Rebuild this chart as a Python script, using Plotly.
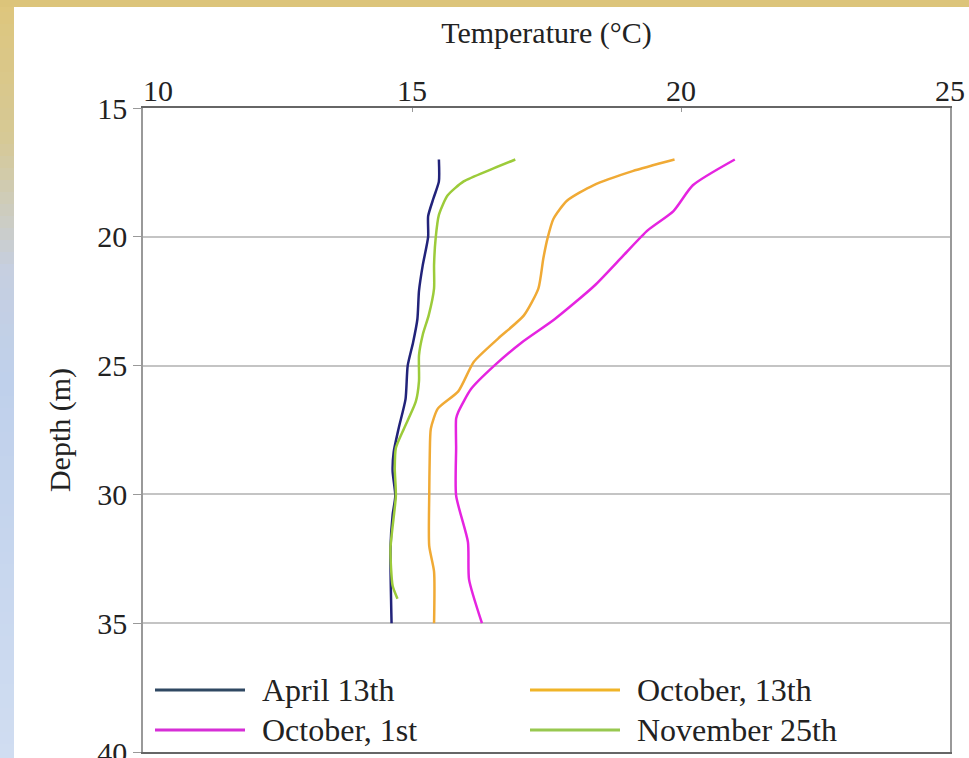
import plotly.graph_objects as go

# Profils de température
april_depth = [17.0, 17.85, 18.5, 19.2, 20.0, 21.1, 22.1, 23.2, 24.1, 25.0, 26.3, 27.45, 28.35, 29.1, 30.05, 30.8, 32.1, 35.0]
april_temp = [15.5, 15.5, 15.4, 15.3, 15.3, 15.2, 15.13, 15.1, 15.02, 14.92, 14.88, 14.75, 14.66, 14.64, 14.69, 14.64, 14.6, 14.62]

oct13_depth = [17.0, 17.45, 18.0, 18.6, 19.3, 20.05, 20.85, 22.0, 23.05, 23.95, 24.85, 26.0, 26.67, 27.45, 28.5, 30.05, 32.0, 33.0, 35.0]
oct13_temp = [19.88, 19.1, 18.37, 17.88, 17.63, 17.52, 17.44, 17.35, 17.08, 16.6, 16.15, 15.86, 15.48, 15.35, 15.33, 15.32, 15.32, 15.41, 15.41]

oct1_depth = [17.0, 18.0, 19.0, 19.75, 20.7, 21.9, 23.2, 24.1, 25.0, 25.9, 26.8, 27.06, 28.2, 30.05, 31.85, 33.3, 35.0]
oct1_temp = [21.0, 20.22, 19.86, 19.38, 18.94, 18.39, 17.65, 17.04, 16.53, 16.1, 15.86, 15.82, 15.82, 15.82, 16.04, 16.06, 16.3]

nov_depth = [17.0, 17.4, 17.85, 18.4, 19.15, 20.05, 21.1, 22.0, 23.05, 23.8, 24.6, 25.6, 26.4, 27.45, 28.2, 29.0, 30.05, 32.1, 33.55, 34.05]
nov_temp = [16.92, 16.45, 15.96, 15.66, 15.5, 15.44, 15.41, 15.41, 15.31, 15.2, 15.13, 15.13, 15.07, 14.85, 14.7, 14.68, 14.7, 14.6, 14.64, 14.73]

names = ["April 13th", "October, 13th", "October, 1st", "November 25th"]
colors = ["#22237a", "#f0aa35", "#e524e0", "#9ccb3a"]
legend_colors = ["#2f4862", "#f0b428", "#d62ed6", "#98c850"]
temps = [april_temp, oct13_temp, oct1_temp, nov_temp]
depths = [april_depth, oct13_depth, oct1_depth, nov_depth]

x_ticks = [10, 15, 20, 25]
y_ticks = [15, 20, 25, 30, 35, 40]

W, H = 969, 758
L, R, T, B = 143, 19, 108, 6
PW, PH = W - L - R, H - T - B


def xp(px):
    return (px - L) / PW


def yp(py):
    return (H - B - py) / PH


FONT = "Liberation Serif, Times New Roman, serif"

fig = go.Figure()
for name, col, t, d in zip(names, colors, temps, depths):
    fig.add_trace(go.Scatter(x=t, y=d, mode="lines", name=name,
                             line=dict(color=col, width=2.5, shape="spline", smoothing=0.6)))

# Bandeau décoratif (dégradé à gauche, bande dorée en haut)
stops = [(0, (222, 198, 124)), (140, (214, 201, 150)), (270, (198, 207, 224)),
         (380, (191, 208, 235)), (758, (208, 221, 241))]


def grad(py):
    for (a, ca), (b, cb) in zip(stops[:-1], stops[1:]):
        if a <= py <= b:
            f = (py - a) / (b - a)
            return "rgb(%d,%d,%d)" % tuple(round(ca[i] + f * (cb[i] - ca[i])) for i in range(3))
    return "rgb(208,221,241)"


shapes = []
step = 12
for py in range(0, H, step):
    shapes.append(dict(type="rect", xref="paper", yref="paper", layer="below",
                       x0=xp(0), x1=xp(14), y0=yp(py + step + 1), y1=yp(py),
                       fillcolor=grad(py + step / 2), line=dict(width=0)))
shapes.append(dict(type="rect", xref="paper", yref="paper", layer="below",
                   x0=xp(0), x1=xp(W), y0=yp(7), y1=yp(0),
                   fillcolor="rgb(220,196,122)", line=dict(width=0)))

# Légende dessinée à la main (segments longs comme dans l'original)
annotations = []
leg_pos = [(155, 690), (530, 690), (155, 730), (530, 730)]
for name, col, (lx, ly) in zip(names, legend_colors, leg_pos):
    shapes.append(dict(type="line", xref="paper", yref="paper",
                       x0=xp(lx), x1=xp(lx + 90), y0=yp(ly), y1=yp(ly),
                       line=dict(color=col, width=3)))
    annotations.append(dict(text=name, xref="paper", yref="paper", x=xp(lx + 105), y=yp(ly),
                            xanchor="left", yanchor="middle", showarrow=False,
                            font=dict(family=FONT, size=32, color="#222")))

# le "10" est décalé vers la droite dans l'original (évite le "15" de l'axe Y)
x_text = ["\u00a0" * 4 + str(x_ticks[0])] + [str(v) for v in x_ticks[1:]]

fig.update_layout(
    width=W, height=H,
    margin=dict(l=L, r=R, t=T, b=B, autoexpand=False),
    paper_bgcolor="white", plot_bgcolor="white",
    showlegend=False,
    font=dict(family=FONT, size=30, color="#222"),
    shapes=shapes, annotations=annotations,
)
fig.update_xaxes(side="top", range=[10, 25], tickvals=x_ticks, ticktext=x_text,
                 showgrid=False, zeroline=False,
                 showline=True, linecolor="#666", linewidth=1.5, mirror=True, automargin=False,
                 ticks="inside", ticklen=4, tickcolor="#999", ticklabelstandoff=-7,
                 title=dict(text="Temperature (°C)", standoff=22, font=dict(size=30)))
fig.update_yaxes(range=[40, 15], tickvals=y_ticks, showgrid=True, gridcolor="#c4c4c4", gridwidth=1.5,
                 zeroline=False, showline=True, linecolor="#999", linewidth=1.5, mirror=True,
                 automargin=False, ticks="outside", ticklen=8, tickcolor="#999",
                 ticklabeloverflow="allow",
                 title=dict(text="Depth (m)", standoff=18, font=dict(size=30)))

fig.write_html("out.html", config={"displayModeBar": False},
               post_script="document.body.style.margin='0px';")
